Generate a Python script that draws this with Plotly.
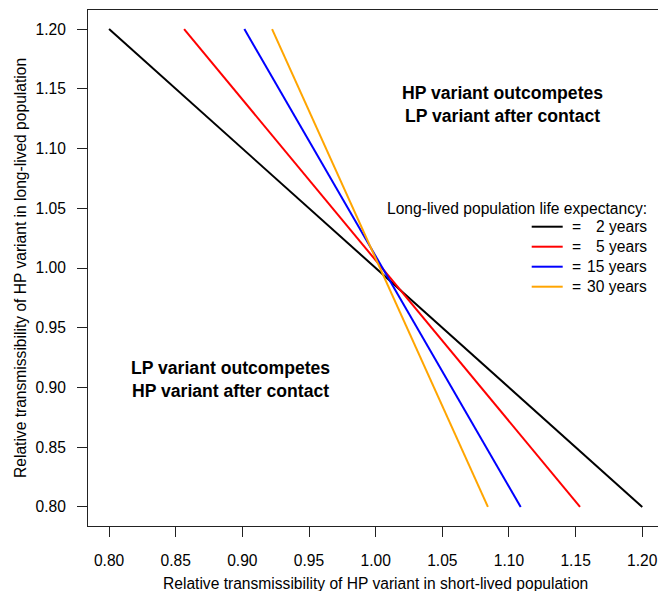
import plotly.graph_objects as go

# ---- data ----
life_expectancy_labels = ["2 years", "5 years", "15 years", "30 years"]
line_colors = ["#000000", "#FF0000", "#0000FF", "#FFA500"]
# start (top, y=1.20) and end (bottom, y=0.80) of each threshold line
x_top = [0.800, 0.8563, 0.9015, 0.9223]
x_bottom = [1.200, 1.1533, 1.1088, 1.0842]
y_top = [1.20, 1.20, 1.20, 1.20]
y_bottom = [0.80, 0.80, 0.80, 0.80]
tick_vals = [0.80, 0.85, 0.90, 0.95, 1.00, 1.05, 1.10, 1.15, 1.20]
tick_text = ["0.80", "0.85", "0.90", "0.95", "1.00", "1.05", "1.10", "1.15", "1.20"]

FONT = "Liberation Sans, Arial, Helvetica, sans-serif"
FS = 15.6
FSB = 17.6
W, H = 658, 591
ML, MR, MT, MB = 88, 0, 10, 65
PW, PH = W - ML - MR, H - MT - MB


def px(xp):
    return (xp - ML) / PW


def py(yp):
    return (H - MB - yp) / PH


fig = go.Figure()
for xt, xb, yt, yb, c, lab in zip(x_top, x_bottom, y_top, y_bottom, line_colors, life_expectancy_labels):
    fig.add_trace(go.Scatter(x=[xt, xb], y=[yt, yb], mode="lines",
                             line=dict(color=c, width=2), name=lab,
                             showlegend=False, hoverinfo="skip"))

annotations = [
    dict(x=1.0948, y=1.1369, xref="x", yref="y",
         text="<b>HP variant outcompetes</b><br><b>LP variant after contact</b>",
         showarrow=False, font=dict(family=FONT, size=FSB, color="black"),
         xanchor="center", yanchor="middle", align="center"),
    dict(x=0.8908, y=0.9064, xref="x", yref="y",
         text="<b>LP variant outcompetes</b><br><b>HP variant after contact</b>",
         showarrow=False, font=dict(family=FONT, size=FSB, color="black"),
         xanchor="center", yanchor="middle", align="center"),
    # axis titles
    dict(x=1.0, y=py(583), xref="x", yref="paper",
         text="Relative transmissibility of HP variant in short-lived population",
         showarrow=False, font=dict(family=FONT, size=FS, color="black"),
         xanchor="center", yanchor="middle"),
    dict(x=px(20), y=1.0, xref="paper", yref="y",
         text="Relative transmissibility of HP variant in long-lived population",
         showarrow=False, textangle=-90, font=dict(family=FONT, size=FS, color="black"),
         xanchor="center", yanchor="middle"),
    # legend title
    dict(x=px(648.5), y=py(208), xref="paper", yref="paper",
         text="Long-lived population life expectancy:",
         showarrow=False, font=dict(family=FONT, size=FS, color="black"),
         xanchor="right", yanchor="middle"),
]

shapes = []
leg_y = [226.7, 246.7, 266.7, 286.7]
for yy, c, lab in zip(leg_y, line_colors, life_expectancy_labels):
    shapes.append(dict(type="line", xref="paper", yref="paper",
                       x0=px(531.7), x1=px(562.7), y0=py(yy), y1=py(yy),
                       line=dict(color=c, width=2)))
    annotations.append(dict(x=px(569.5), y=py(yy), xref="paper", yref="paper",
                            text="=", showarrow=False,
                            font=dict(family=FONT, size=FS, color="black"),
                            xanchor="left", yanchor="middle"))
    annotations.append(dict(x=px(648.5), y=py(yy), xref="paper", yref="paper",
                            text=lab, showarrow=False,
                            font=dict(family=FONT, size=FS, color="black"),
                            xanchor="right", yanchor="middle"))

fig.update_layout(
    width=W, height=H,
    margin=dict(l=ML, r=MR, t=MT, b=MB, pad=0),
    paper_bgcolor="white", plot_bgcolor="white",
    showlegend=False,
    font=dict(family=FONT, size=FS, color="black"),
    annotations=annotations,
    shapes=shapes,
    xaxis=dict(range=[0.7842, 1.2118], tickvals=tick_vals, ticktext=tick_text,
               ticks="outside", ticklen=10, tickwidth=1, tickcolor="#222",
               showline=True, linecolor="#222", linewidth=1, mirror=True,
               showgrid=False, zeroline=False, ticklabelstandoff=10,
               tickfont=dict(family=FONT, size=FS, color="black")),
    yaxis=dict(range=[0.784, 1.216], tickvals=tick_vals, ticktext=tick_text,
               ticks="outside", ticklen=10, tickwidth=1, tickcolor="#222",
               showline=True, linecolor="#222", linewidth=1, mirror=False,
               showgrid=False, zeroline=False, ticklabelstandoff=8,
               tickfont=dict(family=FONT, size=FS, color="black")),
)

fig.write_html("out.html")
